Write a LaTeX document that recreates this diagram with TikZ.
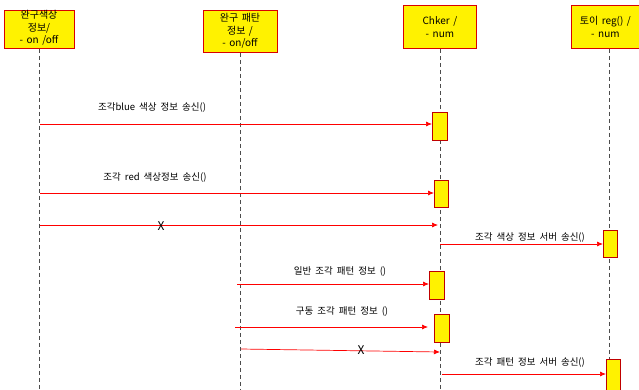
\documentclass[tikz,border=0pt]{standalone}
\usepackage{fontspec}
\setmainfont{Noto Sans CJK KR}
\usetikzlibrary{arrows.meta}
\newcommand\myheadfont{\fontsize{10}{12.5}\selectfont\spaceskip=3.5pt\relax}
\newcommand\mylblfont{\fontsize{9.5}{11}\selectfont\spaceskip=4pt\relax}
\begin{document}
\begin{tikzpicture}[x=1pt,y=-1pt,
  head/.style={draw=red!85!black,line width=0.8pt,fill=yellow,inner sep=0pt,anchor=north west,align=center,font=\myheadfont},
  act/.style={draw=red!75!black,line width=0.7pt,fill=yellow,anchor=north west,inner sep=0pt},
  life/.style={draw=gray!60!black,dashed,dash pattern=on 4pt off 3pt,line width=0.6pt},
  msg/.style={draw=red,line width=0.7pt,-{Latex[length=6pt,width=5pt]}},
  lbl/.style={font=\mylblfont,inner sep=0pt},
  htxt/.style={font=\myheadfont,align=center,inner sep=0pt},
  xmark/.style={font=\fontsize{12}{12}\selectfont,inner sep=0pt}]
\useasboundingbox[fill=white] (0,0) rectangle (639,389);
% headers
\node[head,minimum width=70pt,minimum height=38pt] (h1) at (4,10) {};
\node[htxt] (t1) at (39,28) {완구색상\\정보/\\- on /off};
\node[head,minimum width=74pt,minimum height=42pt] (h2) at (203,10) {};
\node[htxt] (t2) at (240,31) {완구 패탄\\정보 /\\- on/off};
\node[head,minimum width=73pt,minimum height=43pt] (h3) at (403,5) {Chker /\\- num};
\node[head,minimum width=68pt,minimum height=43pt] (h4) at (571,5) {토이 reg() /\\- num};
% lifelines
\coordinate (e1) at (39,389);
\coordinate (e2) at (240,389);
\coordinate (e3) at (440,389);
\coordinate (e4) at (609,389);
\draw[life] (h1.south -| e1) -- (e1);
\draw[life] (h2.south -| e2) -- (e2);
\draw[life] (h3.south -| e3) -- (e3);
\draw[life] (h4.south -| e4) -- (e4);
% activations
\node[act,minimum width=15pt,minimum height=28pt] (a1) at (432,112) {};
\node[act,minimum width=14pt,minimum height=27pt] (a2) at (434,180) {};
\node[act,minimum width=14pt,minimum height=27pt] (a3) at (603,230) {};
\node[act,minimum width=15pt,minimum height=28pt] (a4) at (429,271) {};
\node[act,minimum width=15pt,minimum height=28pt] (a5) at (434,314) {};
\node[act,minimum width=14pt,minimum height=32pt] (a6) at (606,359) {};
% message endpoints
\coordinate (s1) at (40,124);
\coordinate (s2) at (40,193);
\coordinate (s3) at (40,225);
\coordinate (t3) at (438,225);
\coordinate (s4) at (440,244);
\coordinate (s5) at (237,284);
\coordinate (s6) at (235,327);
\coordinate (t6) at (428,327);
\coordinate (s7) at (241,349);
\coordinate (t7) at (440,352);
\coordinate (s8) at (442,374);
% messages
\draw[msg] (s1) -- (s1 -| a1.west);
\node[lbl] (l1) at (152,107) {조각blue 색상 정보 송신()};
\draw[msg] (s2) -- (s2 -| a2.west);
\node[lbl] (l2) at (155,177) {조각 red 색상정보 송신()};
\draw[msg] (s3) -- (t3);
\node[xmark] (x1) at (161,226) {X};
\draw[msg] (s4) -- (s4 -| a3.west);
\node[lbl] (l4) at (530,237) {조각 색상 정보 서버 송신()};
\draw[msg] (s5) -- (s5 -| a4.west);
\node[lbl] (l5) at (340,271) {일반 조각 패턴 정보 ()};
\draw[msg] (s6) -- (t6);
\node[lbl] (l6) at (342,311) {구동 조각 패턴 정보 ()};
\draw[msg] (s7) -- (t7);
\node[xmark] (x2) at (361,350) {X};
\draw[msg] (s8) -- (s8 -| a6.west);
\node[lbl] (l8) at (530,362) {조각 패턴 정보 서버 송신()};
\end{tikzpicture}
\end{document}
